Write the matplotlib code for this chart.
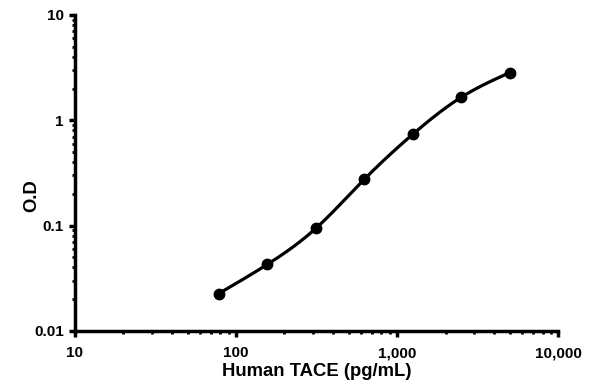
import numpy as np
import matplotlib
matplotlib.use("Agg")
import matplotlib.pyplot as plt
from matplotlib.ticker import FixedLocator, LogLocator, NullFormatter

# standard curve data
conc = [78.125, 156.25, 312.5, 625, 1250, 2500, 5000]
od = [0.0226, 0.0427, 0.0938, 0.274, 0.734, 1.65, 2.83]
xticks = [10, 100, 1000, 10000]
xlabels = ["10", "100", "1,000", "10,000"]
yticks = [0.01, 0.1, 1, 10]
ylabels = ["0.01", "0.1", "1", "10"]


def natural_spline(x, y, xs):
    # natural cubic spline, done by hand so no scipy is needed
    n = len(x)
    h = np.diff(x)
    A = np.zeros((n, n))
    b = np.zeros(n)
    A[0, 0] = 1
    A[-1, -1] = 1
    for i in range(1, n - 1):
        A[i, i - 1] = h[i - 1]
        A[i, i] = 2 * (h[i - 1] + h[i])
        A[i, i + 1] = h[i]
        b[i] = 3 * ((y[i + 1] - y[i]) / h[i] - (y[i] - y[i - 1]) / h[i - 1])
    c = np.linalg.solve(A, b)
    out = np.empty_like(xs)
    for k, xv in enumerate(xs):
        i = min(max(np.searchsorted(x, xv) - 1, 0), n - 2)
        dx = xv - x[i]
        bi = (y[i + 1] - y[i]) / h[i] - h[i] * (2 * c[i] + c[i + 1]) / 3
        di = (c[i + 1] - c[i]) / (3 * h[i])
        out[k] = y[i] + bi * dx + c[i] * dx ** 2 + di * dx ** 3
    return out


lx = np.log10(conc)
ly = np.log10(od)
xs = np.linspace(lx[0], lx[-1], 300)
ys = natural_spline(lx, ly, xs)

plt.rcParams['font.family'] = ['Liberation Sans', 'DejaVu Sans']
plt.rcParams['font.weight'] = 'bold'

fig = plt.figure(figsize=(5.95, 3.92), dpi=100)
ax = fig.add_axes([0.126, 0.156, 0.812, 0.806])

ax.plot(10 ** xs, 10 ** ys, color='black', lw=2.3, zorder=2)
ax.plot(conc, od, 'o', color='black', ms=7.5, zorder=3)

ax.set_xscale('log')
ax.set_yscale('log')
ax.set_xlim(10, 10000)
ax.set_ylim(0.01, 10)

ax.xaxis.set_major_locator(FixedLocator(xticks))
ax.set_xticklabels(xlabels)
ax.yaxis.set_major_locator(FixedLocator(yticks))
ax.set_yticklabels(ylabels)
ax.xaxis.set_minor_locator(LogLocator(base=10, subs=np.arange(2, 10)))
ax.xaxis.set_minor_formatter(NullFormatter())
ax.yaxis.set_minor_locator(LogLocator(base=10, subs=np.arange(2, 10)))
ax.yaxis.set_minor_formatter(NullFormatter())

for s in ['top', 'right']:
    ax.spines[s].set_visible(False)
for s in ['left', 'bottom']:
    ax.spines[s].set_linewidth(2.5)

ax.tick_params(which='major', length=4, width=2.5, labelsize=11, direction='out')
ax.tick_params(which='minor', length=2.5, width=2.0, direction='out')
ax.tick_params(axis='x', pad=7)
ax.tick_params(axis='y', pad=4)

ax.set_xlabel('Human TACE (pg/mL)', fontsize=13.3, fontweight='bold', labelpad=2)
ax.set_ylabel('O.D', fontsize=13.3, fontweight='bold')
ax.yaxis.set_label_coords(-0.072, 0.427)

fig.savefig('out.png', dpi=100)
